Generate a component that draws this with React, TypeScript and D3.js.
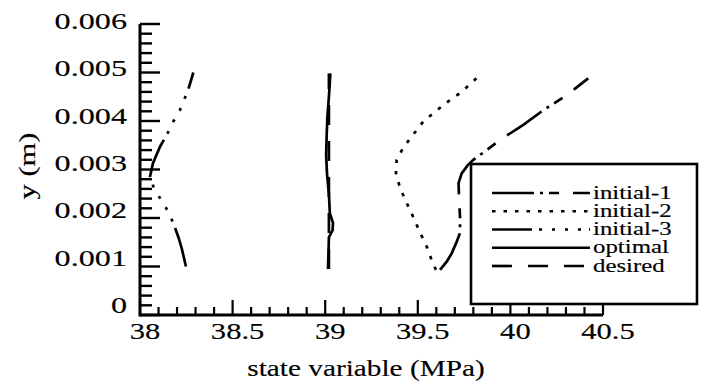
import React from 'react';
import * as d3 from 'd3';

// ---- tick labels ----
const xTickValues = [38, 38.5, 39, 39.5, 40, 40.5];
const xTickLabels = ['38', '38.5', '39', '39.5', '40', '40.5'];
const yTickValues = [0, 0.001, 0.002, 0.003, 0.004, 0.005, 0.006];
const yTickLabels = ['0', '0.001', '0.002', '0.003', '0.004', '0.005', '0.006'];

// ---- series (y in m, state variable in MPa) ----
const seriesNames = ['initial-1', 'initial-2', 'initial-3', 'optimal', 'desired'];

const initial1Y = [0.00093, 0.0011, 0.00127, 0.00151, 0.00169, 0.002, 0.0025, 0.00272, 0.00292, 0.00309, 0.0032, 0.0033, 0.00365, 0.00392, 0.00423, 0.00452, 0.00488];
const initial1X = [39.62, 39.656, 39.683, 39.71, 39.728, 39.728, 39.722, 39.72, 39.737, 39.77, 39.8, 39.836, 39.96, 40.07, 40.18, 40.3, 40.42];

const initial2Y = [0.00093, 0.00113, 0.00141, 0.00172, 0.00203, 0.00231, 0.00262, 0.00293, 0.0032, 0.00344, 0.00368, 0.00399, 0.00416, 0.0044, 0.0046, 0.00495];
const initial2X = [39.598, 39.575, 39.548, 39.51, 39.474, 39.44, 39.404, 39.382, 39.386, 39.42, 39.467, 39.53, 39.583, 39.663, 39.737, 39.836];

const initial3Y = [0.001, 0.00138, 0.00161, 0.00189, 0.00213, 0.00241, 0.00265, 0.00285, 0.00313, 0.00347, 0.00371, 0.00399, 0.00423, 0.00464, 0.005];
const initial3X = [38.248, 38.225, 38.207, 38.18, 38.153, 38.108, 38.072, 38.054, 38.07, 38.108, 38.144, 38.18, 38.216, 38.26, 38.288];

const optimalY = [0.00095, 0.0013, 0.0016, 0.00175, 0.0019, 0.0021, 0.0025, 0.0029, 0.0033, 0.0037, 0.0041, 0.0045, 0.00498];
const optimalX = [39.015, 39.018, 39.02, 39.04, 39.042, 39.025, 39.02, 39.01, 39.005, 39.008, 39.012, 39.02, 39.028];

const desiredY = [0.00095, 0.00498];
const desiredX = [39.02, 39.02];

const seriesDash = ['42,6,3,6,10,14', '3.5,8', '40,7,3,10,3,10,3,10,3,8', 'none', '20,16'];

export default function App() {
  const W = 705;
  const H = 389;
  const x = d3.scaleLinear().domain([38, 40.5]).range([140, 603]);
  const y = d3.scaleLinear().domain([0, 0.006]).range([315, 24]);
  const yLabel = d3.scaleLinear().domain([0, 0.006]).range([313, 29]);

  const line = d3
    .line<[number, number]>()
    .x((d) => x(d[0]))
    .y((d) => y(d[1]));

  const zip = (xs: number[], ys: number[]) => xs.map((v, i) => [v, ys[i]] as [number, number]);
  const series = [
    zip(initial1X, initial1Y),
    zip(initial2X, initial2Y),
    zip(initial3X, initial3Y),
    zip(optimalX, optimalY),
    zip(desiredX, desiredY),
  ];

  const xMinor = d3.range(0, 26).map((i) => 38 + i * 0.1);
  const yMinor = d3.range(0, 31).map((i) => i * 0.0002);

  const font = "'Liberation Serif', 'Times New Roman', Times, serif";
  const sw = 2.7;
  const textStroke = 0.15;

  // legend layout
  const legX0 = 492;
  const legX1 = 590;
  const legRowY = d3.scaleLinear().domain([0, 4]).range([193, 266]);

  return (
    <svg width={W} height={H} style={{ position: 'absolute', left: 0, top: 0, background: '#fff' }}>
      <rect x={0} y={0} width={W} height={H} fill="#fff" />
      {/* series */}
      {series.map((pts, i) => (
        <path
          key={seriesNames[i]}
          d={line(pts) || ''}
          fill="none"
          stroke="#000"
          strokeWidth={sw}
          strokeDasharray={seriesDash[i] === 'none' ? undefined : seriesDash[i]}
        />
      ))}

      {/* axes */}
      <line x1={x(38)} x2={x(40.5)} y1={y(0)} y2={y(0)} stroke="#000" strokeWidth={3} />
      <line x1={x(38)} x2={x(38)} y1={y(0) + 1.5} y2={y(0.006)} stroke="#000" strokeWidth={3} />
      {xMinor.map((v, i) => {
        const major = i % 5 === 0;
        return (
          <line key={'xm' + i} x1={x(v)} x2={x(v)} y1={y(0)} y2={y(0) - (major ? 15 : 8)} stroke="#000" strokeWidth={2.2} />
        );
      })}
      {yMinor.map((v, i) => {
        const major = i % 5 === 0;
        return (
          <line key={'ym' + i} x1={x(38)} x2={x(38) + (major ? 20 : 12)} y1={y(v)} y2={y(v)} stroke="#000" strokeWidth={2.4} />
        );
      })}

      {/* tick labels */}
      {xTickValues.map((v, i) => (
        <text
          key={'xl' + i}
          transform={`translate(${x(v) + 5},339) scale(1.33,1)`}
          textAnchor="middle"
          fontFamily={font}
          fontSize={23}
          fill="#000"
          stroke="#000"
          strokeWidth={textStroke}
        >
          {xTickLabels[i]}
        </text>
      ))}
      {yTickValues.map((v, i) => (
        <text
          key={'yl' + i}
          transform={`translate(127,${yLabel(v)}) scale(1.4,1)`}
          textAnchor="end"
          fontFamily={font}
          fontSize={23}
          fill="#000"
          stroke="#000"
          strokeWidth={textStroke}
        >
          {yTickLabels[i]}
        </text>
      ))}

      {/* axis titles */}
      <text
        transform="translate(366,376) scale(1.22,1)"
        textAnchor="middle"
        fontFamily={font}
        fontSize={24}
        fill="#000"
        stroke="#000"
        strokeWidth={textStroke}
      >
        state variable (MPa)
      </text>
      <text
        transform="translate(27,166) rotate(-90) scale(1.27,1)"
        textAnchor="middle"
        dy="0.35em"
        fontFamily={font}
        fontSize={24}
        fill="#000"
        stroke="#000"
        strokeWidth={textStroke}
      >
        y (m)
      </text>

      {/* legend */}
      <rect x={471} y={164} width={226} height={140} fill="#fff" stroke="#000" strokeWidth={2.6} />
      {seriesNames.map((name, i) => (
        <g key={'lg' + i}>
          <line
            x1={legX0}
            x2={legX1}
            y1={legRowY(i)}
            y2={legRowY(i)}
            stroke="#000"
            strokeWidth={sw}
            strokeDasharray={seriesDash[i] === 'none' ? undefined : seriesDash[i]}
          />
          <text
            transform={`translate(593,${legRowY(i) + 5.5}) scale(1.38,1)`}
            fontFamily={font}
            fontSize={18}
            fill="#000"
            stroke="#000"
            strokeWidth={0.15}
          >
            {name}
          </text>
        </g>
      ))}
    </svg>
  );
}
